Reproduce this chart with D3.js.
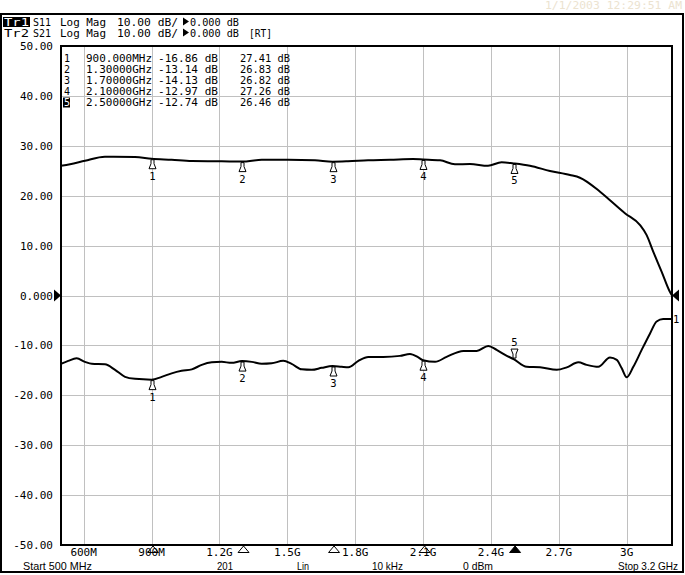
<!DOCTYPE html>
<html><head><meta charset="utf-8">
<script src="https://cdn.jsdelivr.net/npm/d3@7"></script>
<style>
html,body{margin:0;padding:0;background:#fff;}
svg{display:block;}
text{font-family:"DejaVu Sans Mono","Liberation Mono",monospace;font-size:11px;fill:#000;}
text.sm{font-size:10px;}
text.st{font-family:"Liberation Sans","DejaVu Sans",sans-serif;font-size:10.5px;}
</style></head>
<body>
<svg id="chart" width="685" height="575"></svg>
<script>
// ---------- data ----------
const s21Freq = [500,540,606,694,827,900,989,1078,1210,1300,1387,1504,1622,1700,1768,1857,1954,2055,2100,2175,2241,2307,2387,2447,2500,2572,2661,2749,2793,2882,2926,2992,3059,3088,3117,3154,3190,3200];
const s21Val  = [26.0,26.3,27.0,27.8,27.75,27.41,27.2,26.95,26.9,26.83,27.2,27.2,27.1,26.82,26.9,27.1,27.2,27.35,27.26,27.1,26.3,26.35,26.0,26.7,26.46,26.0,24.95,24.15,23.6,20.8,19.1,16.5,14.1,12.1,8.8,4.8,0.8,0.0];
const s11Freq = [500,532,569,606,636,694,739,783,827,900,945,989,1033,1078,1122,1166,1210,1254,1300,1343,1387,1431,1482,1519,1564,1608,1652,1700,1740,1770,1814,1858,1924,1998,2042,2079,2100,2153,2204,2278,2337,2388,2425,2470,2500,2558,2617,2691,2735,2786,2823,2874,2926,2956,2978,3000,3029,3066,3103,3132,3161,3200];
const s11Val  = [-13.7,-13.1,-12.6,-13.3,-13.7,-13.8,-14.9,-16.3,-16.7,-16.86,-16.3,-15.6,-15.1,-14.8,-13.9,-13.4,-13.3,-13.5,-13.14,-13.3,-13.7,-13.6,-13.1,-13.7,-14.8,-14.9,-14.5,-14.13,-14.3,-14.4,-13.1,-12.3,-12.3,-12.1,-11.7,-12.4,-12.97,-13.3,-12.3,-11.1,-11.1,-10.1,-10.9,-12.1,-12.74,-14.3,-14.4,-14.9,-14.4,-13.4,-13.9,-14.3,-12.4,-12.9,-14.6,-16.4,-14.3,-10.9,-7.6,-5.2,-4.7,-4.7];

const markerIds   = ["1","2","3","4","5"];
const markerFreq  = [900,1300,1700,2100,2500];
const markerFreqLabel = ["900.000MHz","1.30000GHz","1.70000GHz","2.10000GHz","2.50000GHz"];
const markerS11   = [-16.86,-13.14,-14.13,-12.97,-12.74];
const markerS21   = [27.41,26.83,26.82,27.26,26.46];

const xTickFreq  = [600,900,1200,1500,1800,2100,2400,2700,3000];
const xTickLabel = ["600M","900M","1.2G","1.5G","1.8G","2.1G","2.4G","2.7G","3G"];
const yTickVal   = [50,40,30,20,10,0,-10,-20,-30,-40,-50];
const yTickLabel = ["50.00","40.00","30.00","20.00","10.00","0.000","-10.00","-20.00","-30.00","-40.00","-50.00"];

// ---------- layout ----------
const svg = d3.select("#chart");
const L = 61, R = 672, T = 46, B = 545;
const x = d3.scaleLinear().domain([500,3200]).range([L,R]);
const y = d3.scaleLinear().domain([-50,50]).range([B,T]);

// outer frame
svg.append("rect").attr("x",1).attr("y",14).attr("width",682).attr("height",558)
  .attr("fill","none").attr("stroke","#000").attr("stroke-width",2);

// timestamp
svg.append("text").attr("class","sm").attr("x",545).attr("y",9).attr("textLength",137).attr("lengthAdjust","spacingAndGlyphs")
  .style("fill","#ece3d0").text("1/1/2003 12:29:51 AM");

// header
function txt(xp, yb, len, s, cls){
  return svg.append("text").attr("class",cls||"sm").attr("x",xp).attr("y",yb)
    .attr("textLength",len).attr("lengthAdjust","spacingAndGlyphs").text(s);
}
function headerRow(yb, tr, s, rt){
  txt(4,yb,25,tr).style("fill", tr==="Tr1" ? "#fff" : "#000");
  txt(33,yb,18,s);
  txt(60,yb,46,"Log Mag");
  txt(117,yb,61,"10.00 dB/");
  svg.append("path").attr("d",`M183,${yb-8}L189,${yb-4}L183,${yb}Z`).attr("fill","#000");
  txt(190,yb,49,"0.000 dB");
  if(rt) txt(249,yb,23,"[RT]");
}
svg.append("rect").attr("x",3).attr("y",17).attr("width",27).attr("height",10).attr("fill","#000");
headerRow(25.5,"Tr1","S11",false);
headerRow(36.5,"Tr2","S21",true);

// grid
const g = svg.append("g");
g.selectAll(".vg").data(xTickFreq).enter().append("line")
  .attr("x1",d=>Math.round(x(d))+0.5).attr("x2",d=>Math.round(x(d))+0.5).attr("y1",T).attr("y2",B)
  .attr("stroke","#c0c0c0").attr("stroke-width",1);
g.selectAll(".hg").data(yTickVal.slice(1,-1)).enter().append("line")
  .attr("y1",d=>Math.round(y(d))+0.5).attr("y2",d=>Math.round(y(d))+0.5).attr("x1",L).attr("x2",R)
  .attr("stroke","#c0c0c0").attr("stroke-width",1);

// y labels
svg.selectAll(".yl").data(yTickVal).enter().append("text")
  .attr("x",53).attr("y",d=>y(d)+4).attr("text-anchor","end").text((d,i)=>yTickLabel[i]);

// x labels
svg.selectAll(".xl").data(xTickFreq).enter().append("text")
  .attr("x",d=>x(d)).attr("y",555.5).attr("text-anchor","middle").text((d,i)=>xTickLabel[i]);

// marker table
markerIds.forEach((id,i)=>{
  const yb = 62 + i*11;
  if(i===4){ svg.append("rect").attr("x",63).attr("y",yb-8.5).attr("width",7).attr("height",10).attr("fill","#000"); }
  svg.append("text").attr("class","sm").attr("x",64).attr("y",yb).style("fill", i===4?"#fff":"#000").text(id);
  txt(86,yb,66,markerFreqLabel[i]);
  txt(158,yb,60,markerS11[i].toFixed(2)+" dB");
  txt(240,yb,50,markerS21[i].toFixed(2)+" dB");
});

// traces
const line = d3.line().x(d=>x(d[0])).y(d=>y(d[1])).curve(d3.curveMonotoneX);
svg.append("clipPath").attr("id","pc").append("rect").attr("x",L).attr("y",T-2).attr("width",R-L+1).attr("height",B-T+4);
svg.append("path").datum(s21Freq.map((f,i)=>[f,s21Val[i]])).attr("d",line)
  .attr("fill","none").attr("stroke","#000").attr("stroke-width",2).attr("clip-path","url(#pc)");
svg.append("path").datum(s11Freq.map((f,i)=>[f,s11Val[i]])).attr("d",line)
  .attr("fill","none").attr("stroke","#000").attr("stroke-width",2).attr("clip-path","url(#pc)");

// plot frame
svg.append("rect").attr("x",L).attr("y",T).attr("width",R-L).attr("height",B-T)
  .attr("fill","none").attr("stroke","#000").attr("stroke-width",2);

// trace markers
function markerBelow(px,py,lab){
  svg.append("path").attr("d",`M${px-1.5},${py+1}H${px+1.5}V${py+5}L${px+3.5},${py+10}H${px-3.5}L${px-1.5},${py+5}Z`)
    .attr("fill","#fff").attr("stroke","#000").attr("stroke-width",1);
  svg.append("text").attr("x",px).attr("y",py+21).attr("text-anchor","middle").style("font-size","10.5px").text(lab);
}
function markerAbove(px,py,lab){
  svg.append("path").attr("d",`M${px-1.5},${py-1}H${px+1.5}V${py-5}L${px+3.5},${py-10}H${px-3.5}L${px-1.5},${py-5}Z`)
    .attr("fill","#fff").attr("stroke","#000").attr("stroke-width",1);
  svg.append("text").attr("x",px).attr("y",py-13).attr("text-anchor","middle").style("font-size","10.5px").text(lab);
}
markerFreq.forEach((f,i)=>{
  const px = Math.round(x(f))+0.5;
  markerBelow(px, y(markerS21[i]), markerIds[i]);
  if(i===4) markerAbove(px, y(markerS11[i]), markerIds[i]);
  else markerBelow(px, y(markerS11[i]), markerIds[i]);
  const cx = x(f)+1.5;
  svg.append("path").attr("d",`M${cx},${546}L${cx+5.5},${552.5}L${cx-5.5},${552.5}Z`)
    .attr("fill", i===4?"#000":"none").attr("stroke","#000").attr("stroke-width",1);
});

// reference arrows
svg.append("path").attr("d",`M54,${y(0)-6}L61,${y(0)}L54,${y(0)+6}Z`).attr("fill","#000");
svg.append("path").attr("d",`M679,${y(0)-6}L672,${y(0)}L679,${y(0)+6}Z`).attr("fill","#000");
svg.append("text").attr("x",673).attr("y",y(s11Val[s11Val.length-1])+4).style("font-size","10.5px").text("1");

// bottom status line
const status = [["Start 500 MHz",23,69],["201",217,16],["Lin",297,12],["10 kHz",372,31],["0 dBm",463,30],["Stop 3.2 GHz",618,60]];
status.forEach(s=>{ txt(s[1],570,s[2],s[0],"st"); });
</script>
</body></html>
